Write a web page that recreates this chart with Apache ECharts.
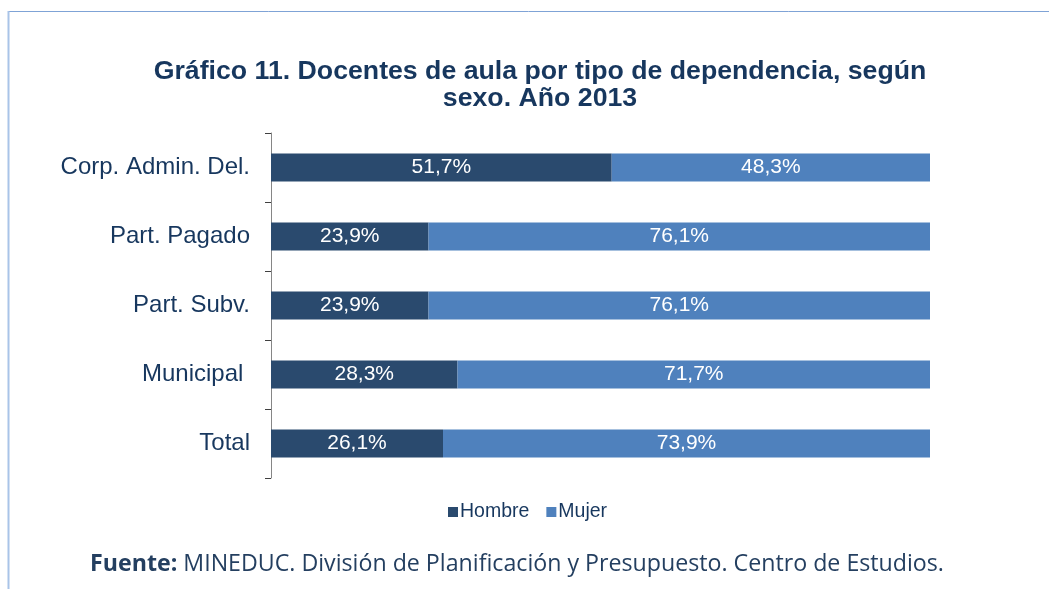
<!DOCTYPE html>
<html>
<head>
<meta charset="utf-8">
<script src="https://cdn.jsdelivr.net/npm/echarts@6/dist/echarts.min.js"></script>
<style>
    html, body { margin: 0; padding: 0; background: #fff; }
    #chart { width: 1049px; height: 589px; }
</style>
</head>
<body>
<div id="chart"></div>
<script>
    // categories bottom -> top
    var categories = ['Total', 'Municipal ', 'Part. Subv.', 'Part. Pagado', 'Corp. Admin. Del.'];
    var hombre = [26.1, 28.3, 23.9, 23.9, 51.7];
    var mujer = [73.9, 71.7, 76.1, 76.1, 48.3];

    var chart = echarts.init(document.getElementById('chart'));

    //formato con coma decimal
    function pct(p) {
        return p.value.toFixed(1).replace('.', ',') + '%';
    }

    chart.setOption({
        animation: false,
        title: {
            text: 'Gráfico 11. Docentes de aula por tipo de dependencia, según\nsexo. Año 2013',
            left: 535,
            textAlign: 'center',
            top: 53,
            textStyle: {
                fontFamily: 'Liberation Sans',
                fontWeight: 'bold',
                fontSize: 26.7,
                lineHeight: 27,
                color: '#17375E'
            }
        },
        legend: {
            data: ['Hombre', 'Mujer'],
            left: 443,
            top: 497,
            icon: 'rect',
            itemWidth: 10,
            itemHeight: 10,
            itemGap: 17,
            textStyle: {
                fontFamily: 'Liberation Sans',
                fontSize: 19.5,
                color: '#17375E',
                padding: [0, 0, 0, -3]
            }
        },
        grid: {
            left: 271,
            right: 119,
            top: 133,
            bottom: 589 - 478
        },
        xAxis: {
            type: 'value',
            min: 0,
            max: 100,
            show: false
        },
        yAxis: {
            type: 'category',
            data: categories,
            axisLine: { show: true, lineStyle: { color: '#868686', width: 1 } },
            axisTick: { show: true, inside: false, length: 6, lineStyle: { color: '#404040' } },
            axisLabel: {
                margin: 21,
                fontFamily: 'Liberation Sans',
                fontSize: 24,
                color: '#17375E'
            }
        },
        series: [
            {
                name: 'Hombre',
                type: 'bar',
                stack: 'total',
                barWidth: 28,
                data: hombre,
                itemStyle: { color: '#2A4A6E' },
                label: {
                    show: true,
                    position: 'inside',
                    formatter: pct,
                    color: '#fff',
                    fontFamily: 'Liberation Sans',
                    fontSize: 21
                }
            },
            {
                name: 'Mujer',
                type: 'bar',
                stack: 'total',
                barWidth: 28,
                data: mujer,
                itemStyle: { color: '#4F81BD' },
                label: {
                    show: true,
                    position: 'inside',
                    formatter: pct,
                    color: '#fff',
                    fontFamily: 'Liberation Sans',
                    fontSize: 21
                }
            }
        ],
        graphic: [
            // marco del cuadro
            { type: 'line', shape: { x1: 8, y1: 11.5, x2: 1049, y2: 11.5 }, style: { stroke: '#7FA3D6', lineWidth: 1 } },
            { type: 'line', shape: { x1: 8.5, y1: 11, x2: 8.5, y2: 589 }, style: { stroke: '#A9C4E8', lineWidth: 2 } },
            {
                type: 'text',
                left: 90,
                top: 553,
                style: {
                    text: '{b|Fuente:} MINEDUC. División de Planificación y Presupuesto. Centro de Estudios.',
                    fontFamily: 'Open Sans',
                    fontSize: 23.2,
                    fill: '#243F60',
                    rich: {
                        b: { fontFamily: 'Open Sans', fontSize: 23.2, fontWeight: 'bold', fill: '#243F60' }
                    }
                }
            }
        ]
    });
</script>
</body>
</html>
